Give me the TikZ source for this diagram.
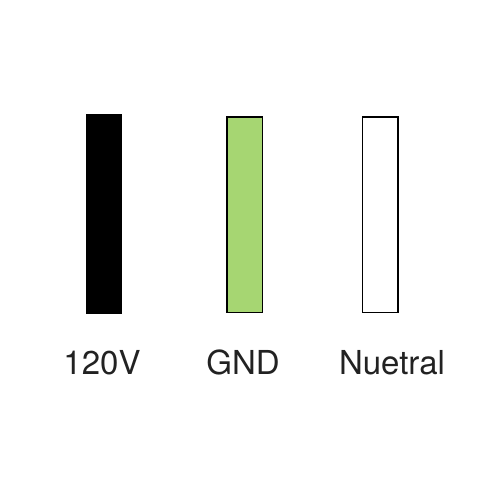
\documentclass[tikz,border=0pt]{standalone}
\usepackage{fontspec}
\setmainfont{TeX Gyre Heros}
\definecolor{wiregreen}{RGB}{166,214,114}
\definecolor{labelgray}{RGB}{34,34,34}
\begin{document}
\begin{tikzpicture}[x=1pt,y=-1pt,
  wire/.style={draw=black,line width=1.5pt},
  lbl/.style={anchor=base,inner sep=0pt,text=labelgray,font=\fontsize{33}{39}\selectfont}]
\useasboundingbox[fill=white] (0,0) rectangle (500,500);
\path[wire,fill=black] (86.5,114.5) rectangle (121.5,313.5) node[midway,inner sep=0pt] (hot) {};
\path[wire,fill=wiregreen] (227,117) rectangle (262.5,312.5) node[midway,inner sep=0pt] (gnd) {};
\path[wire,fill=white] (362.5,117) rectangle (398,312.5) node[midway,inner sep=0pt] (neu) {};
\node[lbl] (l1) at (102,374.7) {120V};
\node[lbl] (l2) at (243,374.7) {GND};
\node[lbl] (l3) at (392,374.7) {Nuetral};
\end{tikzpicture}
\end{document}
